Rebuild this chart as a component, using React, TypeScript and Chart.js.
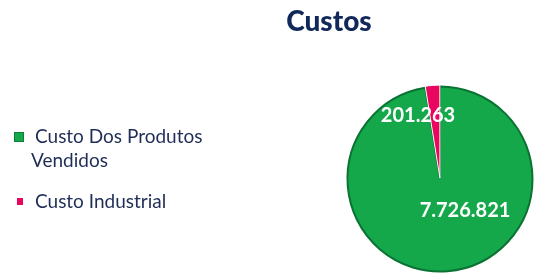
import React, { useEffect, useRef } from "react";
import { Chart, registerables } from "chart.js";

Chart.register(...registerables);

const title = "Custos";
const categories = ["Custo Dos Produtos Vendidos", "Custo Industrial"];
const legendLines = [["Custo Dos Produtos", "Vendidos"], ["Custo Industrial"]];
const values = [7726821, 201263];
const colors = ["#14a84b", "#e8065f"];

const fmt = (v: number) => String(v).replace(/\B(?=(\d{3})+(?!\d))/g, ".");

const labelPlugin = {
  id: "valueLabels",
  afterDatasetsDraw(chart: any) {
    const meta = chart.getDatasetMeta(0);
    const ctx = chart.ctx;
    ctx.save();
    ctx.font = "bold 20px Lato";
    ctx.fillStyle = "#ffffff";
    ctx.textAlign = "center";
    ctx.textBaseline = "middle";
    const shifts = [
      [25, 32],
      [-22, -63],
    ];
    meta.data.forEach((arc: any, i: number) => {
      ctx.fillText(fmt(values[i]), arc.x + shifts[i][0], arc.y + shifts[i][1]);
    });
    ctx.restore();
  },
};

export default function App() {
  const ref = useRef<HTMLCanvasElement>(null);
  useEffect(() => {
    if (!ref.current) return;
    const chart = new Chart(ref.current, {
      type: "pie",
      data: {
        labels: categories,
        datasets: [
          {
            data: values,
            backgroundColor: colors,
            borderColor: ["#0a7232", "#ffffff"],
            borderWidth: [2, 1],
            offset: [0, 3],
          },
        ],
      },
      options: {
        responsive: false,
        animation: false,
        layout: { padding: { left: 345, right: 1, top: 84, bottom: 6 } },
        plugins: {
          legend: { display: false },
          tooltip: { enabled: false },
          title: { display: false },
        },
      },
      plugins: [labelPlugin],
    });
    return () => chart.destroy();
  }, []);

  const textColor = "#1f2d57";
  return (
    <div style={{ position: "fixed", left: 0, top: 0, width: 536, height: 280, background: "#fff" }}>
      <canvas ref={ref} width={536} height={280} style={{ position: "absolute", left: 0, top: 0 }} />
      <div
        style={{
          position: "absolute",
          left: 229,
          width: 200,
          top: 3,
          textAlign: "center",
          fontFamily: "Lato",
          fontWeight: 900,
          fontSize: 28,
          color: "#10285a",
        }}
      >
        {title}
      </div>
      {legendLines.map((lines, i) => (
        <div
          key={i}
          style={{
            position: "absolute",
            left: 0,
            top: i === 0 ? 124 : 189,
            fontFamily: "Lato",
            fontSize: 19,
            color: textColor,
            lineHeight: "24px",
          }}
        >
          <span
            style={{
              position: "absolute",
              left: i === 0 ? 14 : 17,
              top: i === 0 ? 8 : 9,
              width: i === 0 ? 8 : 6,
              height: i === 0 ? 8 : 7,
              background: colors[i],
              border: i === 0 ? "1px solid #0b7f36" : "none",
            }}
          />
          <div style={{ position: "absolute", left: 35, top: 0, whiteSpace: "nowrap" }}>{lines[0]}</div>
          {lines[1] && (
            <div style={{ position: "absolute", left: 31, top: 24, whiteSpace: "nowrap" }}>{lines[1]}</div>
          )}
        </div>
      ))}
    </div>
  );
}
